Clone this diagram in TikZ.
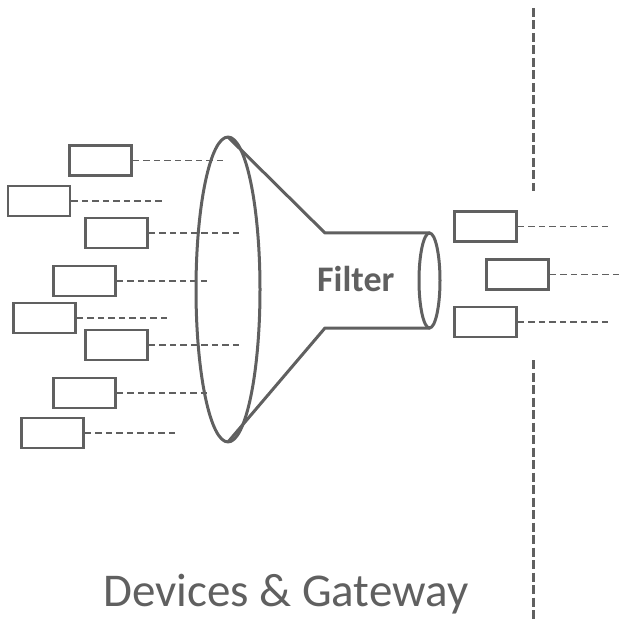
\documentclass[tikz,border=0pt]{standalone}
\usepackage{fontspec}
\setmainfont{Carlito}
\definecolor{linegray}{RGB}{96,96,96}
\begin{document}
\begin{tikzpicture}[x=1pt,y=-1pt,
  devbox/.style={draw=linegray,line width=2.6pt,minimum width=62pt,minimum height=30pt,inner sep=0pt},
  link/.style={draw=linegray,line width=1.8pt,dash pattern=on 6.5pt off 4pt},
  funnel/.style={draw=linegray,line width=3pt,line join=round},
  border/.style={draw=linegray,line width=3pt,dash pattern=on 9pt off 3.5pt}]
\useasboundingbox (0,0) rectangle (621,620);
% devices on the left
\foreach \n/\x/\y/\e in {1/100.5/160.5/225,2/39/201/163,3/116.5/233/241,4/84.5/281/208,
  5/44.5/318/168,6/116.5/345/241,7/84.5/393/208,8/52.5/433/177}{
  \node[devbox] (d\n) at (\x,\y) {};
  \coordinate (e\n) at (\e,\y);
  \draw[link] (d\n.east)--(e\n);
}
% funnel
\draw[funnel] (228,289.5) ellipse (32 and 152.5);
\coordinate (ftop) at (228,137);
\coordinate (fbot) at (228,442);
\coordinate (ntop) at (325,233);
\coordinate (nbot) at (325,328);
\draw[funnel] (ftop)--(ntop)--(430,233);
\draw[funnel] (fbot)--(nbot)--(430,328);
\draw[funnel] (429.5,280.5) ellipse (10.5 and 47.5);
\node[text=linegray,font=\fontsize{36}{42}\selectfont\bfseries,anchor=base west,inner sep=0pt] (filter) at (317,291.7) {Filter};
% filtered devices
\foreach \n/\x/\y/\e in {a/485.5/226.5/610,b/517.5/274.5/621,c/485.5/322/610}{
  \node[devbox] (r\n) at (\x,\y) {};
  \coordinate (f\n) at (\e,\y);
  \draw[link] (r\n.east)--(f\n);
}
% boundary
\coordinate (b1) at (533,8);
\coordinate (b2) at (533,191);
\coordinate (b3) at (533,360);
\coordinate (b4) at (533,620);
\draw[border] (b1)--(b2);
\draw[border] (b3)--(b4);
\node[text=linegray,font=\fontsize{47}{54}\selectfont,anchor=base west,inner sep=0pt] (label) at (103,606) {Devices \& Gateway};
\end{tikzpicture}
\end{document}
